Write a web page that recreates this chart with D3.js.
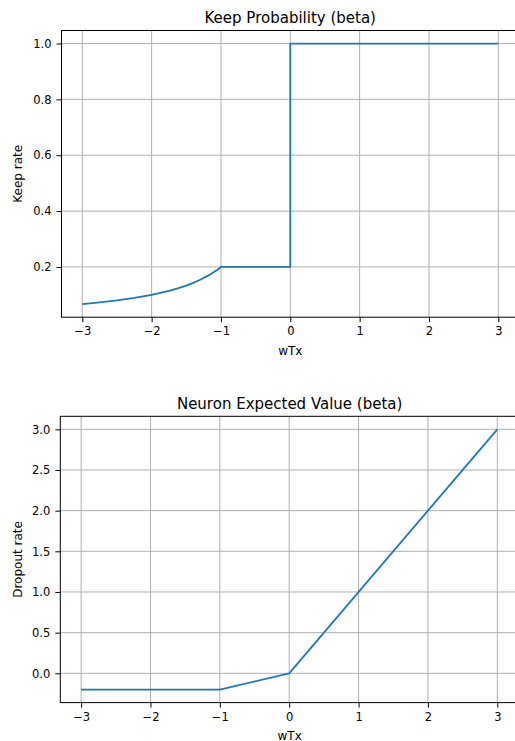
<!DOCTYPE html>
<html><head><meta charset="utf-8">
<script src="https://cdn.jsdelivr.net/npm/d3@7"></script>
<style>
body{margin:0;background:#fff;}
text{font-family:"DejaVu Sans",sans-serif;fill:#000;}
</style></head>
<body>
<svg id="c" width="515" height="741"></svg>
<script>
// ---- data ----
const xTicks = [-3,-2,-1,0,1,2,3];
const keepX = [-3,-2.75,-2.5,-2.25,-2,-1.875,-1.75,-1.625,-1.5,-1.4,-1.3,-1.2,-1.15,-1.1,-1.05,-1,0,0,3];
const keepY = [0.067,0.073,0.08,0.089,0.1,0.107,0.114,0.123,0.133,0.143,0.154,0.167,0.174,0.182,0.19,0.2,0.2,1.0,1.0];
const keepTicks = [0.2,0.4,0.6,0.8,1.0];
const evX = [-3,-1,0,3];
const evY = [-0.2,-0.2,0,3];
const evTicks = [0.0,0.5,1.0,1.5,2.0,2.5,3.0];

const svg = d3.select('#c');
const lineColor = '#1f77b4';

function panel(cfg){
  const x = d3.scaleLinear().domain([-3.3,3.3]).range([cfg.left, cfg.right]);
  const y = d3.scaleLinear().domain(cfg.ydom).range([cfg.bottom, cfg.top]);
  const g = svg.append('g');
  // grid
  g.selectAll('.gx').data(xTicks).enter().append('line')
    .attr('x1',d=>x(d)).attr('x2',d=>x(d)).attr('y1',cfg.top).attr('y2',cfg.bottom)
    .attr('stroke','#b0b0b0').attr('stroke-width',1);
  g.selectAll('.gy').data(cfg.yticks).enter().append('line')
    .attr('y1',d=>y(d)).attr('y2',d=>y(d)).attr('x1',cfg.left).attr('x2',cfg.right)
    .attr('stroke','#b0b0b0').attr('stroke-width',1);
  // line
  const pts = cfg.xs.map((v,i)=>[v,cfg.ys[i]]);
  g.append('path').datum(pts)
    .attr('d', d3.line().x(d=>x(d[0])).y(d=>y(d[1])))
    .attr('fill','none').attr('stroke',lineColor).attr('stroke-width',1.8)
    .attr('stroke-linejoin','round');
  // frame
  g.append('rect').attr('x',cfg.left).attr('y',cfg.top)
    .attr('width',cfg.right-cfg.left).attr('height',cfg.bottom-cfg.top)
    .attr('fill','none').attr('stroke','#000').attr('stroke-width',1);
  // axes
  const xa = d3.axisBottom(x).tickValues(xTicks).tickSize(5).tickPadding(5)
    .tickFormat(d=>d<0?'\u2212'+Math.abs(d):String(d));
  const gx = g.append('g').attr('transform',`translate(0,${cfg.bottom})`).call(xa);
  const ya = d3.axisLeft(y).tickValues(cfg.yticks).tickSize(5).tickPadding(5)
    .tickFormat(d3.format('.1f'));
  const gy = g.append('g').attr('transform',`translate(${cfg.left},0)`).call(ya);
  [gx,gy].forEach(a=>{
    a.select('.domain').remove();
    a.selectAll('text').style('font-family','DejaVu Sans').style('font-size','11.5px').attr('fill','#000');
    a.selectAll('line').attr('stroke','#000');
  });
  // title
  g.append('text').attr('x',(cfg.left+519)/2).attr('y',cfg.titleY)
    .attr('text-anchor','middle').style('font-size','15px').text(cfg.title);
  g.append('text').attr('x',(cfg.left+519)/2 - 0).attr('y',cfg.xlabY)
    .attr('text-anchor','middle').style('font-size','12px').text('wTx');
  g.append('text').attr('transform',`translate(21.5,${(cfg.top+cfg.bottom)/2}) rotate(-90)`)
    .attr('text-anchor','middle').style('font-size','12px').text(cfg.ylab);
}

panel({left:61.5,right:519.1,top:30.5,bottom:317.2,ydom:[0.02,1.04667],
  xs:keepX,ys:keepY,yticks:keepTicks,title:'Keep Probability (beta)',titleY:22.5,xlabY:355,ylab:'Keep rate'});
panel({left:60.3,right:518.1,top:416.3,bottom:702.6,ydom:[-0.36,3.16],
  xs:evX,ys:evY,yticks:evTicks,title:'Neuron Expected Value (beta)',titleY:408.5,xlabY:739.5,ylab:'Dropout rate'});
</script>
</body></html>
